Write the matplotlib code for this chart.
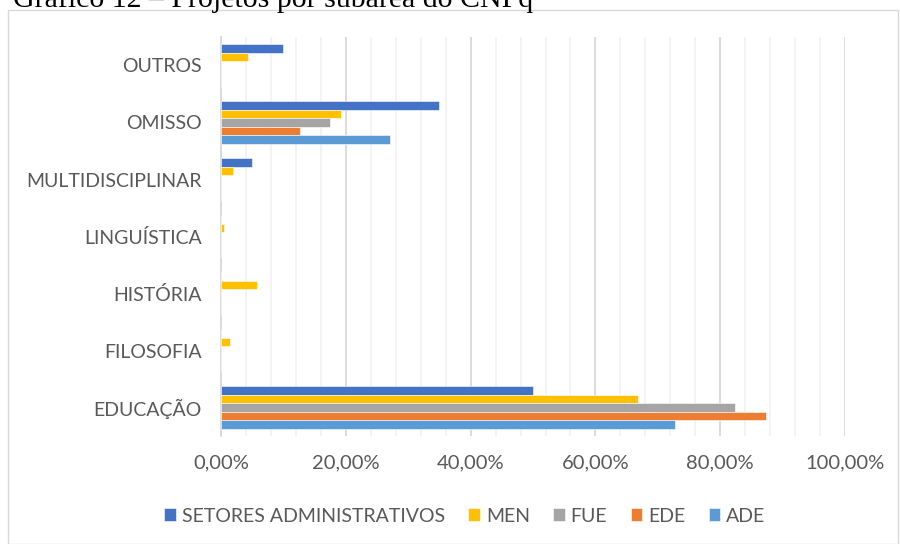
import matplotlib.pyplot as plt
import matplotlib.ticker as mticker
import numpy as np
from matplotlib.patches import Rectangle

# dados (em fração)
categorias = ['EDUCAÇÃO', 'FILOSOFIA', 'HISTÓRIA', 'LINGUÍSTICA',
              'MULTIDISCIPLINAR', 'OMISSO', 'OUTROS']
series = ['SETORES ADMINISTRATIVOS', 'MEN', 'FUE', 'EDE', 'ADE']
setores = [0.500, 0.0, 0.0, 0.0, 0.050, 0.349, 0.099]
men = [0.668, 0.014, 0.058, 0.005, 0.019, 0.192, 0.043]
fue = [0.824, 0.0, 0.0, 0.0, 0.0, 0.175, 0.0]
ede = [0.874, 0.0, 0.0, 0.0, 0.0, 0.127, 0.0]
ade = [0.728, 0.0, 0.0, 0.0, 0.0, 0.271, 0.0]
valores = [setores, men, fue, ede, ade]
cores = ['#4472C4', '#FFC000', '#A5A5A5', '#ED7D31', '#5B9BD5']

plt.rcParams['font.family'] = ['Lato', 'DejaVu Sans']
cinza = '#595959'

fig = plt.figure(figsize=[9, 5.44], dpi=100)
ax = fig.add_axes([0.2456, 0.1985, 0.6933, 0.7335])

y = np.arange(len(categorias))
h = 0.148
for i, (nome, v) in enumerate(zip(series, valores)):
    pos = y + (2 - i) * h
    ax.barh(pos, v, height=h, color=cores[i], label=nome,
            edgecolor='white', linewidth=0.4, zorder=3)

ax.set_xlim(0, 1.0)
ax.set_ylim(-0.5, len(categorias) - 0.5)
ax.set_yticks(y)
ax.set_yticklabels(categorias, fontsize=14, color=cinza)
ax.xaxis.set_major_locator(mticker.MultipleLocator(0.2))
ax.xaxis.set_minor_locator(mticker.MultipleLocator(0.04))
ax.xaxis.set_major_formatter(mticker.FuncFormatter(
    lambda v, p: ('%.2f%%' % (v * 100)).replace('.', ',')))
ax.tick_params(axis='x', labelsize=14.5, labelcolor=cinza, length=0, pad=13)
ax.tick_params(axis='y', length=0, pad=14)
ax.tick_params(which='minor', length=0)
ax.grid(True, which='major', axis='x', color='#D9D9D9', linewidth=1.3, zorder=0)
ax.grid(True, which='minor', axis='x', color='#F2F2F2', linewidth=1.3, zorder=0)
for s in ['top', 'right', 'bottom']:
    ax.spines[s].set_visible(False)
ax.spines['left'].set_color('#D9D9D9')
ax.spines['left'].set_linewidth(1.3)

ax.legend(loc='center', bbox_to_anchor=(465 / 900, 1 - 516 / 544),
          bbox_transform=fig.transFigure, ncol=5, frameon=False,
          fontsize=14, handlelength=0.6, handleheight=0.6,
          handletextpad=0.3, columnspacing=1.2, labelcolor=cinza)

# moldura do gráfico
fig.patches.append(Rectangle((8 / 900, 0), 890 / 900, 1 - 10 / 544,
                             transform=fig.transFigure, fill=False,
                             edgecolor='#D9D9D9', linewidth=1))
fig.text(13 / 900, 1 - 7 / 544, 'Gráfico 12 – Projetos por subárea do CNPq',
         family='Liberation Serif', fontsize=21.5, va='baseline', color='black')

plt.savefig('out.png', dpi=100)
